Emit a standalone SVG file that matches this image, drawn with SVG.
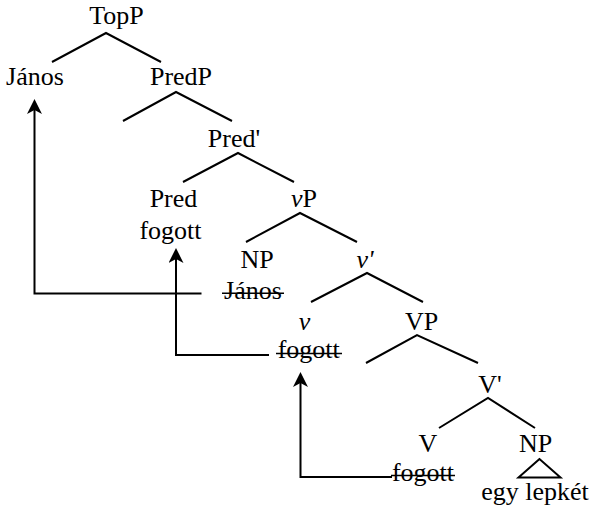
<svg xmlns="http://www.w3.org/2000/svg" width="593" height="524" viewBox="0 0 593 524">
<style>
text{font-family:"Liberation Serif","Times New Roman",serif;font-size:26px;fill:#000;text-anchor:middle}
.it{font-style:italic}
.br{stroke:#000;stroke-width:2;fill:none}
.st{stroke:#000;stroke-width:1.6}
.ar{stroke:#000;stroke-width:2;fill:none;marker-end:url(#ah)}
</style>
<defs>
<marker id="ah" viewBox="0 0 15 15" markerWidth="15" markerHeight="15" markerUnits="userSpaceOnUse" refX="7" refY="7.5" orient="auto">
<path d="M15,7.5 L0,0 L4,7.5 L0,15 z" fill="#000"/>
</marker>
</defs>
<rect width="593" height="524" fill="#fff"/>
<g id="TopP"><text x="116.5" y="24">TopP</text></g>
<g id="Janos"><text x="35" y="85">János</text></g>
<g id="PredP"><text x="181" y="85">PredP</text></g>
<g id="PredBar"><text x="234" y="147">Pred'</text></g>
<g id="Pred"><text x="173.5" y="207">Pred</text><text x="170.5" y="239">fogott</text></g>
<g id="vP"><text x="304" y="207"><tspan class="it">v</tspan>P</text></g>
<g id="NP1"><text x="257" y="268">NP</text><text x="253" y="299">János</text><line class="st" x1="222" y1="293.3" x2="284" y2="293.3"/></g>
<g id="vBar"><text class="it" x="365" y="268">v'</text></g>
<g id="v"><text class="it" x="304.5" y="330">v</text><text x="308.7" y="358">fogott</text><line class="st" x1="276" y1="353.5" x2="342" y2="353.5"/></g>
<g id="VP"><text x="421.5" y="330">VP</text></g>
<g id="VBar"><text x="490" y="393">V'</text></g>
<g id="V"><text x="428" y="452">V</text><text x="423" y="481">fogott</text><line class="st" x1="391" y1="475.5" x2="455" y2="475.5"/></g>
<g id="NP2"><text x="535.5" y="452">NP</text><polygon points="539.5,459 518.5,477.5 560.5,477.5" class="br"/><text x="535" y="500">egy lepkét</text></g>
<g id="branches">
<path class="br" d="M52,62 L106,33 L161,62"/>
<path class="br" d="M123,121 L176,92 L232,121"/>
<path class="br" d="M183,182 L238,153 L294,182"/>
<path class="br" d="M246,242 L300,213 L357,242"/>
<path class="br" d="M311,302 L367,273 L423,302"/>
<path class="br" d="M366,363 L417,335 L478,363"/>
<path class="br" d="M439,428 L488,398 L535,428"/>
</g>
<g id="connectors">
<path class="ar" d="M201.5,293.5 H34.5 V107"/>
<path class="ar" d="M269,355 H176 V256"/>
<path class="ar" d="M392,477 H300.5 V380"/>
</g>
</svg>
